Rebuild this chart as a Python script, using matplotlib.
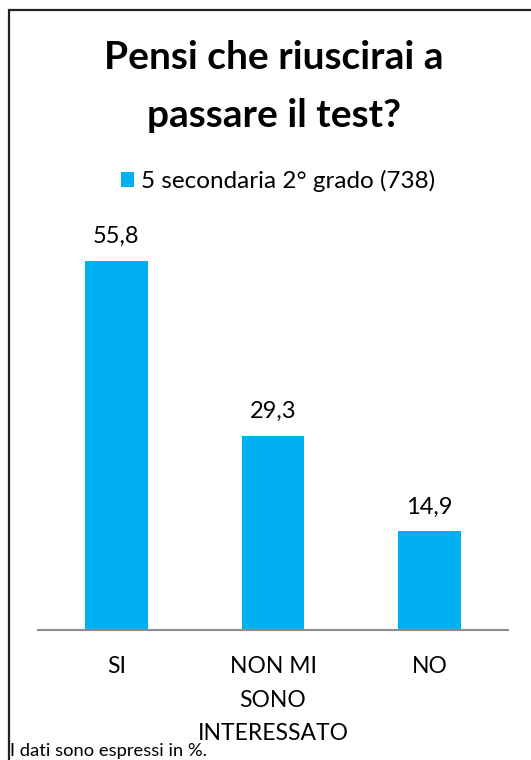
import matplotlib
matplotlib.use("Agg")
import matplotlib.pyplot as plt
from matplotlib.patches import Rectangle

categories = ["SI", "NON MI\nSONO\nINTERESSATO", "NO"]
values = [55.8, 29.3, 14.9]
value_labels = ["55,8", "29,3", "14,9"]
series_name = "5 secondaria 2° grado (738)"
title_lines = ["Pensi che riuscirai a", "passare il test?"]
footer = "I dati sono espressi in %."

plt.rcParams["font.family"] = ["Lato", "DejaVu Sans"]

W, H = 531, 760
fig = plt.figure(figsize=(W / 100, H / 100), dpi=100)

# axes placement in pixels
left, right, bottom, top = 38, 508, 630, 200
ax = fig.add_axes([left / W, 1 - bottom / H, (right - left) / W, (bottom - top) / H])

bar_color = "#00B0F0"
x = range(len(categories))
bars = ax.bar(x, values, width=0.4, color=bar_color, label=series_name)
for xi, v, lab in zip(x, values, value_labels):
    ax.text(xi, v + 2.7, lab, ha="center", va="baseline", fontsize=17, color="#000000")

ax.set_xlim(-0.5, 2.5)
ax.set_ylim(0, 65)
ax.set_xticks(list(x))
ax.set_xticklabels(categories, fontsize=16.5, linespacing=1.72, va="top")
ax.tick_params(axis="x", length=0, pad=19)
ax.set_yticks([])
for s in ["left", "right", "top"]:
    ax.spines[s].set_visible(False)
ax.spines["bottom"].set_color("#8c8c8c")
ax.spines["bottom"].set_linewidth(1.5)

# title, one line at a time (baselines in pixels)
for line, base in zip(title_lines, [69, 127]):
    fig.text(274 / W, 1 - base / H, line, ha="center", va="baseline", fontsize=28,
             fontweight="bold")

# legend
fig.legend(handles=[bars], labels=[series_name], loc="center",
           bbox_to_anchor=(278 / W, 1 - 181 / H), frameon=False, fontsize=17.5,
           handlelength=0.55, handleheight=0.55, handletextpad=0.3)

# outer border (cropped at right and bottom)
fig.patches.append(Rectangle((8.5 / W, -0.1), 1.2, 1.1 - 10.5 / H, transform=fig.transFigure,
                             fill=False, edgecolor="#222222", linewidth=1.6))

fig.text(10 / W, 1 - 751 / H, footer, ha="left", va="center", fontsize=13.2)

fig.savefig("out.png", dpi=100)
